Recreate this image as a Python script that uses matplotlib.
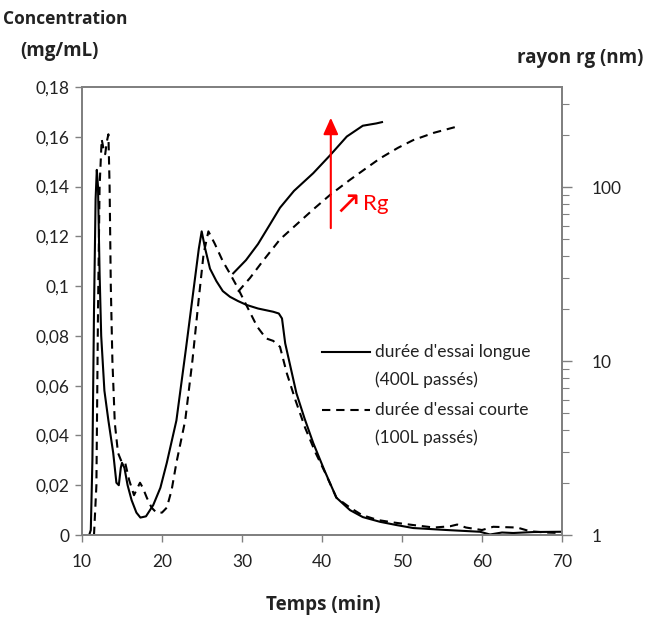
import matplotlib
matplotlib.use("Agg")
import matplotlib.pyplot as plt
from matplotlib.ticker import FixedLocator, FuncFormatter, LogLocator, NullFormatter

plt.rcParams['font.family'] = ['Lato', 'DejaVu Sans']

# ---- data ----
t_long = [10.9, 11.1, 11.3, 11.5, 11.7, 11.85, 12.0, 12.2, 12.4, 12.8, 13.3, 13.9, 14.3, 14.6,
          14.85, 15.0, 15.3, 15.7, 16.2, 16.8, 17.3, 18.0, 18.9, 19.8, 20.6, 21.8, 23.0, 24.0,
          24.6, 24.96, 25.4, 26.0, 26.8, 27.6, 28.5, 29.5, 30.6, 32.0, 33.9, 34.6, 35.0, 35.4,
          36.1, 36.8, 37.8, 38.9, 40.3, 41.8, 43.5, 45.1, 47.25, 49.3, 51.4, 55.6, 59.75, 61.0,
          62.5, 63.9, 66.5, 69.75, 70.0]
c_long = [0.0, 0.002, 0.03, 0.09, 0.135, 0.1467, 0.14, 0.105, 0.08, 0.058, 0.046, 0.033, 0.021, 0.02,
          0.027, 0.029, 0.027, 0.02, 0.014, 0.009, 0.007, 0.0075, 0.012, 0.019, 0.029, 0.046, 0.075, 0.100,
          0.115, 0.122, 0.115, 0.107, 0.102, 0.098, 0.0957, 0.094, 0.0924, 0.091, 0.0897, 0.089, 0.087, 0.077,
          0.067, 0.057, 0.047, 0.037, 0.026, 0.015, 0.010, 0.0072, 0.0053, 0.004, 0.0028, 0.002, 0.0013, 0.0002,
          0.001, 0.0008, 0.0012, 0.0013, 0.0013]

t_short = [11.5, 11.8, 12.0, 12.2, 12.46, 12.7, 12.9, 13.1, 13.3, 13.45, 13.6, 13.8, 14.1, 14.5,
           15.0, 15.4, 15.9, 16.5, 17.25, 17.6, 18.1, 18.7, 19.3, 20.0, 20.6, 21.2, 21.8, 22.9,
           23.8, 24.6, 25.2, 25.8, 26.6, 27.6, 28.5, 29.4, 30.6, 31.9, 33.0, 33.9, 34.75, 35.6,
           36.7, 37.9, 39.2, 40.4, 41.8, 43.5, 45.0, 47.0, 49.0, 51.4, 54.0, 56.0, 56.9, 58.0,
           60.0, 61.4, 64.4, 66.0, 68.0, 70.0]
c_short = [0.0, 0.02, 0.09, 0.14, 0.159, 0.155, 0.153, 0.158, 0.161, 0.14, 0.1, 0.07, 0.045, 0.033,
           0.029, 0.029, 0.022, 0.016, 0.021, 0.019, 0.015, 0.011, 0.009, 0.009, 0.011, 0.018, 0.029, 0.046,
           0.07, 0.095, 0.113, 0.122, 0.117, 0.110, 0.105, 0.0997, 0.092, 0.0837, 0.079, 0.078, 0.0756, 0.065,
           0.054, 0.043, 0.033, 0.025, 0.015, 0.011, 0.008, 0.006, 0.005, 0.004, 0.003, 0.0035, 0.0042, 0.003,
           0.002, 0.0033, 0.003, 0.0015, 0.001, 0.0008]

t_rg_long = [28.9, 30.5, 32.0, 33.5, 34.75, 36.5, 38.9, 41.0, 43.1, 45.1, 46.8, 47.5]
rg_long = [31.9, 38.0, 47.0, 61.0, 76.0, 95.0, 120.0, 152.0, 195.0, 225.0, 232.0, 236.0]

t_rg_short = [29.5, 31.0, 32.5, 34.75, 37.0, 39.0, 41.0, 43.5, 45.5, 47.25, 49.5, 51.4, 54.0, 56.8]
rg_short = [25.0, 30.0, 37.0, 50.0, 62.0, 75.0, 90.0, 110.0, 128.0, 146.0, 168.0, 186.0, 205.0, 222.0]

x_ticks = [10, 20, 30, 40, 50, 60, 70]
y_ticks = [0, 0.02, 0.04, 0.06, 0.08, 0.1, 0.12, 0.14, 0.16, 0.18]
rg_ticks = [1, 10, 100]

label_long = "durée d'essai longue"
label_long2 = "(400L passés)"
label_short = "durée d'essai courte"
label_short2 = "(100L passés)"

arrow_t = 41.1
arrow_rg = (58, 250)

# ---- figure ----
fig = plt.figure(figsize=(6.52, 6.18), dpi=100)
ax = fig.add_axes([82/652, 1-535/618, 480/652, 448/618])
ax2 = ax.twinx()

spine_col = '#808080'
fs = 12.5
dash = (0, (4, 2.8))

ax.plot(t_long, c_long, color='black', lw=1.5, solid_joinstyle='round')
ax.plot(t_short, c_short, color='black', lw=1.5, linestyle=dash)
ax2.plot(t_rg_long, rg_long, color='black', lw=1.5)
ax2.plot(t_rg_short, rg_short, color='black', lw=1.5, linestyle=dash)

ax.set_xlim(10, 70)
ax.set_ylim(0, 0.18)
ax2.set_yscale('log')
ax2.set_ylim(1, 10 ** (448 / 174))

ax.xaxis.set_major_locator(FixedLocator(x_ticks))
ax.yaxis.set_major_locator(FixedLocator(y_ticks))
ax.yaxis.set_major_formatter(FuncFormatter(lambda v, p: ('%g' % round(v, 2)).replace('.', ',')))
ax2.yaxis.set_major_locator(FixedLocator(rg_ticks))
ax2.yaxis.set_major_formatter(FuncFormatter(lambda v, p: '%d' % v))
ax2.yaxis.set_minor_locator(LogLocator(base=10, subs=range(2, 10)))
ax2.yaxis.set_minor_formatter(NullFormatter())

for a in (ax, ax2):
    for s in a.spines.values():
        s.set_color(spine_col)
        s.set_linewidth(1.3)
ax.tick_params(axis='both', which='major', direction='out', length=5, width=1, color=spine_col,
               labelsize=fs, pad=4, labelcolor='#222222')
ax.tick_params(axis='x', pad=9)
ax2.tick_params(axis='y', which='major', direction='out', length=7, width=1, color=spine_col,
                labelsize=fs, pad=14, labelcolor='#222222')
ax2.tick_params(axis='y', which='minor', direction='out', length=5, width=0.8, color=spine_col)

# red arrow and Rg label
ax2.annotate('', xy=(arrow_t, arrow_rg[1]), xytext=(arrow_t, arrow_rg[0]),
             arrowprops=dict(arrowstyle='-|>,head_length=1.0,head_width=0.45', color='red', lw=1.5,
                             shrinkA=0, shrinkB=0))
ax2.text(41.5, 80, '↗', color='red', fontsize=23, va='center', ha='left', family=['DejaVu Sans'])
ax2.text(45.1, 80, 'Rg', color='red', fontsize=16, va='center', ha='left')

# legend (manual, handle aligned with first line)
def leg(y_ax, dashed, l1, l2):
    ax.plot([0.50, 0.60], [y_ax, y_ax], transform=ax.transAxes, color='black', lw=1.5,
            linestyle=dash if dashed else '-')
    ax.text(0.611, y_ax, l1, transform=ax.transAxes, fontsize=fs, va='center', ha='left', color='#222222')
    ax.text(0.611, y_ax - 0.062, l2, transform=ax.transAxes, fontsize=fs, va='center', ha='left', color='#222222')

leg(1 - (352 - 87) / 448, False, label_long, label_long2)
leg(1 - (410 - 87) / 448, True, label_short, label_short2)

# axis titles
tfam = ['Open Sans', 'DejaVu Sans']
fig.text(3/652, 1 - 19/618, 'Concentration', fontsize=12.5, fontweight='bold', family=tfam,
         ha='left', va='center', color='#222222')
fig.text(20/652, 1 - 51/618, '(mg/mL)', fontsize=13.5, fontweight='bold', family=tfam,
         ha='left', va='center', color='#222222')
fig.text(643/652, 1 - 58/618, 'rayon rg (nm)', fontsize=13.5, fontweight='bold', family=tfam,
         ha='right', va='center', color='#222222')
fig.text(323/652, 1 - 605/618, 'Temps (min)', fontsize=13.5, fontweight='bold', family=tfam,
         ha='center', va='center', color='#222222')

fig.savefig('out.png', dpi=100)
